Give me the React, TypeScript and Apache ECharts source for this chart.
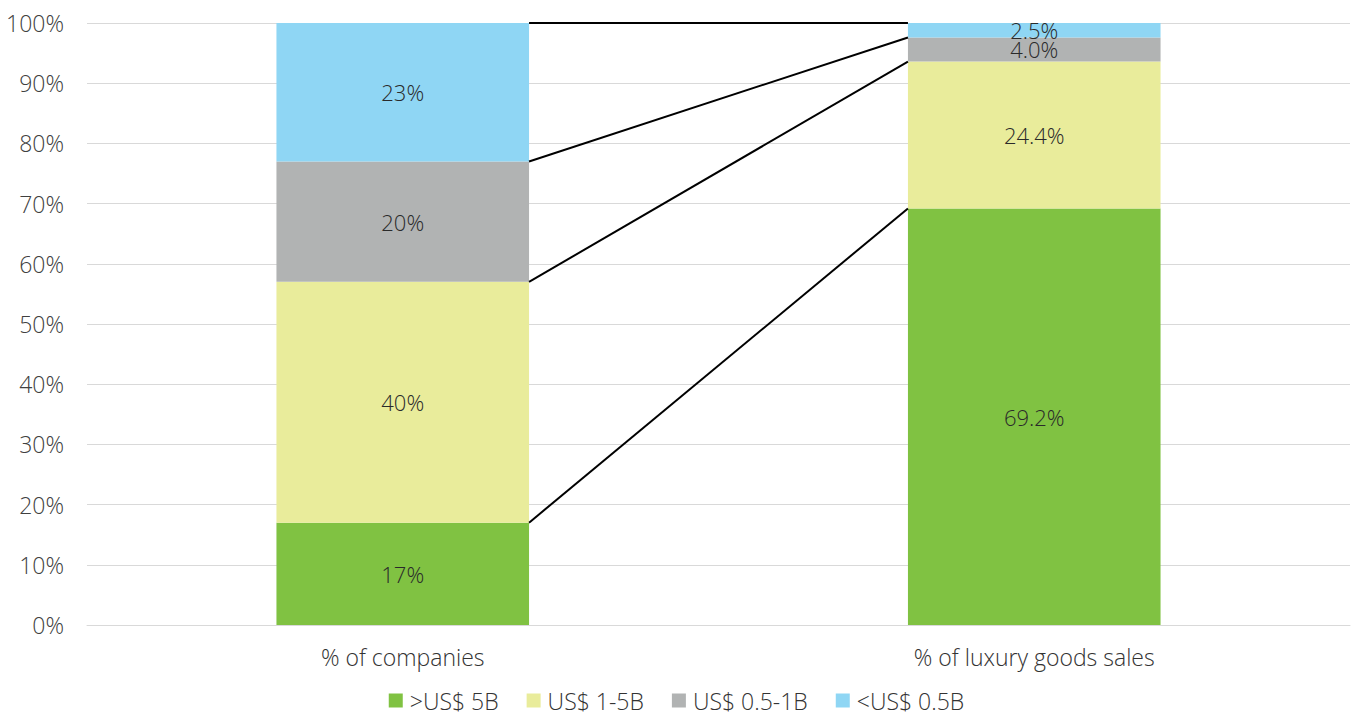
import React, { useEffect, useRef } from "react";
import * as echarts from "echarts";

const categories = ["% of companies", "% of luxury goods sales"];
const seriesNames = [">US$ 5B", "US$ 1-5B", "US$ 0.5-1B", "<US$ 0.5B"];
const over5B = [17, 69.2];
const from1to5B = [40, 24.4];
const from05to1B = [20, 4.0];
const under05B = [23, 2.5];
const labelsLeft = ["17%", "40%", "20%", "23%"];
const labelsRight = ["69.2%", "24.4%", "4.0%", "2.5%"];
const colors = ["#80c242", "#e9ec9b", "#b1b3b3", "#8fd6f4"];
const yTicks = [0, 10, 20, 30, 40, 50, 60, 70, 80, 90, 100];

export default function App() {
  const ref = useRef<HTMLDivElement>(null);
  useEffect(() => {
    if (!ref.current) return;
    const chart = echarts.init(ref.current, null, { renderer: "svg" });
    const all = [over5B, from1to5B, from05to1B, under05B];
    const labels = [labelsLeft, labelsRight];
    const cum = (idx: number) => {
      let s = 0;
      return all.map((arr) => {
        s += arr[idx];
        return Math.min(100, Math.round(s * 10) / 10);
      });
    };
    const leftCum = cum(0);
    const rightCum = cum(1);
    const lineData = leftCum.map((v, i) => [0, v, rightCum[i]]);
    const font = "'Open Sans', sans-serif";
    const barSeries = all.map((arr, si) => ({
      name: seriesNames[si],
      type: "bar",
      stack: "total",
      barWidth: "40%",
      itemStyle: { color: colors[si] },
      label: {
        show: true,
        position: "inside",
        color: "#2a2a2a",
        fontSize: 22,
        fontWeight: 300,
        fontFamily: font,
        lineHeight: 20,
        formatter: (p: any) => labels[p.dataIndex][si],
      },
      data: arr,
    }));
    chart.setOption({
      animation: false,
      textStyle: { fontFamily: font },
      grid: { left: 87, right: 3, top: 23, bottom: 92, containLabel: false },
      legend: {
        data: seriesNames,
        top: 689,
        left: "center",
        padding: 0,
        icon: "rect",
        itemWidth: 14,
        itemHeight: 14,
        itemGap: 28,
        textStyle: { fontSize: 23, lineHeight: 20, color: "#333", fontWeight: 300, fontFamily: font, padding: [0, 0, 0, 2] },
      },
      xAxis: {
        type: "category",
        data: categories,
        axisTick: { show: false },
        axisLine: { lineStyle: { color: "#d9d9d9" } },
        axisLabel: { fontSize: 23, color: "#333", fontWeight: 300, margin: 20, fontFamily: font },
      },
      yAxis: {
        type: "value",
        min: yTicks[0],
        max: yTicks[yTicks.length - 1],
        interval: 10,
        axisLine: { show: false },
        axisTick: { show: false },
        splitLine: { lineStyle: { color: "#d9d9d9" } },
        axisLabel: { fontSize: 23, color: "#404040", fontWeight: 300, margin: 23, formatter: "{value}%", fontFamily: font },
      },
      series: [
        ...barSeries,
        {
          type: "custom",
          z: 5,
          silent: true,
          encode: { x: 0, y: 1 },
          data: lineData,
          renderItem: (params: any, api: any) => {
            const p1 = api.coord([0, api.value(1)]);
            const p2 = api.coord([1, api.value(2)]);
            const bw = api.size([1, 0])[0] * 0.4;
            return {
              type: "line",
              shape: { x1: p1[0] + bw / 2, y1: p1[1], x2: p2[0] - bw / 2, y2: p2[1] },
              style: { stroke: "#000", lineWidth: 2 },
            };
          },
        },
      ],
    });
    return () => chart.dispose();
  }, []);
  return <div ref={ref} style={{ width: 1353, height: 717, position: "absolute", left: 0, top: 0 }} />;
}
